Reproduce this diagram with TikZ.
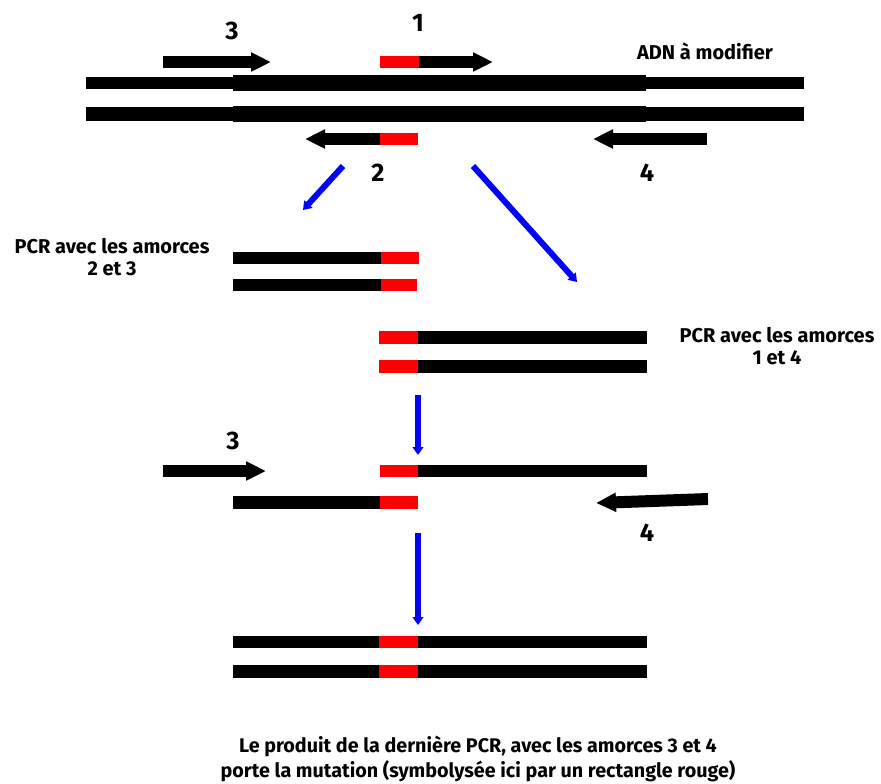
\documentclass[tikz,border=0pt]{standalone}
\usepackage{fontspec}
\setmainfont{Fira Sans}
\usetikzlibrary{arrows.meta}
\definecolor{mutred}{RGB}{255,0,0}
\definecolor{flowblue}{RGB}{0,0,255}
\tikzset{
  primer/.style={line width=9pt,black,-{Triangle[length=15pt,width=13.5pt]}},
  flow/.style={line width=4.5pt,flowblue,-{Triangle[length=6pt,width=8pt]}},
  numlabel/.style={font=\fontsize{19}{19}\selectfont\bfseries},
  caption/.style={font=\fontsize{15}{16.5}\selectfont\bfseries,align=center},
  bigcaption/.style={font=\fontsize{14.8}{18.75}\selectfont\bfseries,align=center},
}
\begin{document}
\begin{tikzpicture}[x=0.75pt,y=-0.75pt]
\useasboundingbox[fill=white] (0,0) rectangle (881,783);

% --- DNA to modify (outer parts thinner) ---
\fill (86,77) rectangle (804,89);
\fill (233,75) rectangle (646,91);
\fill (86,107) rectangle (804,121);
\fill (233,106) rectangle (646,122);

% primer 3
\coordinate (p3a) at (163,62); \coordinate (p3b) at (271,62);
\draw[primer] (p3a) -- (p3b);
% primer 1 (mutated tail in red)
\fill[mutred] (380,56) rectangle (419,68);
\coordinate (p1a) at (419,62); \coordinate (p1b) at (493,62);
\draw[primer] (p1a) -- (p1b);
% primer 2
\fill[mutred] (380,133) rectangle (418,145);
\coordinate (p2a) at (380,139); \coordinate (p2b) at (305,139);
\draw[primer] (p2a) -- (p2b);
% primer 4
\coordinate (p4a) at (707,139); \coordinate (p4b) at (593,139);
\draw[primer] (p4a) -- (p4b);

\node[numlabel] (n3) at (232,31) {3};
\node[numlabel] (n1) at (418,23) {1};
\node[numlabel] (n2) at (378,173) {2};
\node[numlabel] (n4) at (647,173) {4};
\node[caption] (adn) at (705,51) {ADN à modifier};

% split into two PCRs
\coordinate (b1a) at (343,166); \coordinate (b1b) at (303,210);
\draw[flow] (b1a) -- (b1b);
\coordinate (b2a) at (473,166); \coordinate (b2b) at (577,282);
\draw[flow] (b2a) -- (b2b);

% --- PCR with primers 2 and 3 ---
\fill (233,252) rectangle (381,264);
\fill[mutred] (381,252) rectangle (419,264);
\fill (233,279) rectangle (381,291);
\fill[mutred] (381,279) rectangle (417,291);
\node[caption] (pcr23) at (112,257) {PCR avec les amorces\\2 et 3};

% --- PCR with primers 1 and 4 ---
\fill[mutred] (379,331) rectangle (418,344);
\fill (418,331) rectangle (647,344);
\fill[mutred] (379,360) rectangle (418,373);
\fill (418,360) rectangle (647,373);
\node[caption] (pcr14) at (777,346) {PCR avec les amorces\\1 et 4};

\coordinate (b3a) at (418,395); \coordinate (b3b) at (418,455);
\draw[flow] (b3a) -- (b3b);

% --- annealed fragments with primers 3 and 4 ---
\coordinate (q3a) at (163,471); \coordinate (q3b) at (266,471);
\draw[primer] (q3a) -- (q3b);
\node[numlabel] (m3) at (233,441) {3};
\fill[mutred] (380,465) rectangle (418,477);
\fill (418,465) rectangle (647,477);
\fill (233,496) rectangle (380,509);
\fill[mutred] (380,496) rectangle (418,509);
\coordinate (q4a) at (708,499); \coordinate (q4b) at (596,503);
\draw[primer] (q4a) -- (q4b);
\node[numlabel] (m4) at (647,533) {4};

\coordinate (b4a) at (418,533); \coordinate (b4b) at (418,625);
\draw[flow] (b4a) -- (b4b);

% --- final mutated product ---
\fill (233,636) rectangle (647,648);
\fill[mutred] (379,636) rectangle (418,648);
\fill (233,665) rectangle (647,678);
\fill[mutred] (379,665) rectangle (418,678);

\node[bigcaption] (result) at (478,759) {Le produit de la dernière PCR, avec les amorces 3 et 4\\porte la mutation (symbolysée ici par un rectangle rouge)};
\end{tikzpicture}
\end{document}
